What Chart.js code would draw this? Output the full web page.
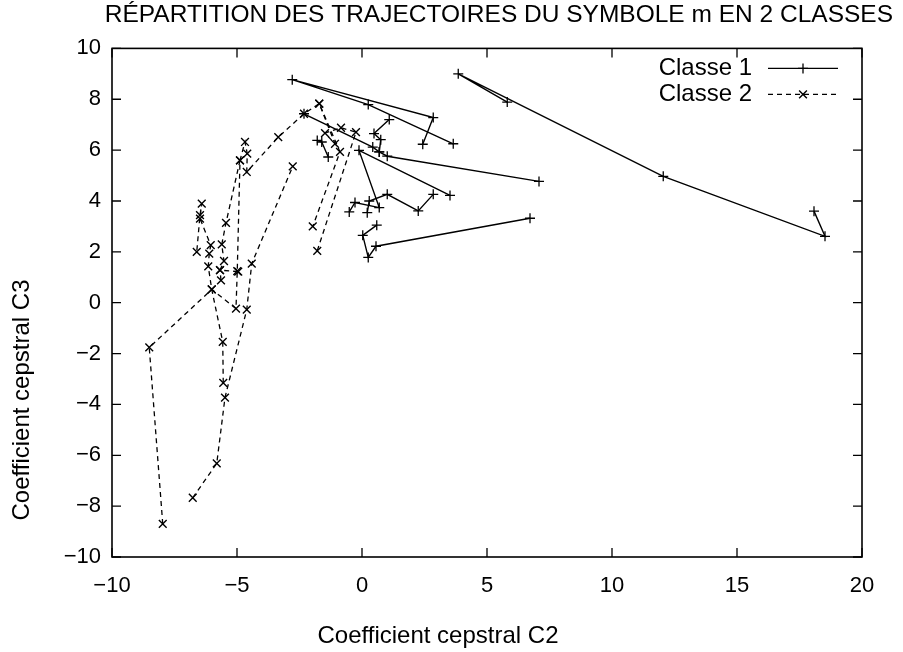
<!DOCTYPE html>
<html>
<head>
<meta charset="utf-8">
<script src="https://cdn.jsdelivr.net/npm/chart.js@4.4.1/dist/chart.umd.min.js"></script>
<style>
  html, body { margin: 0; padding: 0; background: #fff; }
</style>
</head>
<body>
<canvas id="chart" width="903" height="652"></canvas>
<script>
const chartTitle = "RÉPARTITION DES TRAJECTOIRES DU SYMBOLE m EN 2 CLASSES";
const xLabel = "Coefficient cepstral C2";
const yLabel = "Coefficient cepstral C3";
const legendLabels = ["Classe 1", "Classe 2"];
const xTicks = [-10, -5, 0, 5, 10, 15, 20];
const yTicks = [-10, -8, -6, -4, -2, 0, 2, 4, 6, 8, 10];

// classe 1 trajectories, [C2, C3] per frame
const c1Traj1 = [[5.81, 7.89], [3.85, 9.0], [12.05, 4.97], [18.52, 2.61], [18.08, 3.6]];
const c1Traj2 = [[2.43, 6.23], [2.85, 7.28], [-2.79, 8.77], [0.25, 7.79], [3.65, 6.25]];
const c1Traj3 = [[-2.32, 7.43], [0.43, 6.12], [0.69, 5.93], [1.01, 5.76], [7.08, 4.77]];
const c1Traj4 = [[1.09, 7.2], [0.48, 6.65], [0.75, 6.41], [0.69, 5.93]];
const c1Traj5 = [[3.52, 4.22], [-0.12, 5.99], [0.69, 3.74], [-0.28, 3.94], [-0.51, 3.57]];
const c1Traj6 = [[2.85, 4.26], [2.25, 3.61], [1.01, 4.26], [0.29, 4.0], [0.21, 3.54]];
const c1Traj7 = [[6.72, 3.32], [0.56, 2.22], [0.25, 1.78], [0.03, 2.65], [0.59, 3.05]];
const c1Traj8 = [[-1.79, 6.38], [-1.61, 6.32], [-1.35, 5.73]];

// classe 2 trajectories
const c2Traj1 = [[-7.97, -8.7], [-8.51, -1.76], [-6.01, 0.52], [-5.04, -0.23], [-4.99, 1.24], [-4.88, 5.6],
                 [-4.68, 6.32], [-4.59, 5.86], [-4.61, 5.14], [-3.35, 6.51], [-2.32, 7.43], [-1.71, 7.83],
                 [-0.88, 5.93], [-1.97, 3.0]];
const c2Traj2 = [[-6.77, -7.67], [-5.81, -6.32], [-5.48, -3.73], [-4.61, -0.27], [-4.41, 1.54], [-2.77, 5.36]];
const c2Traj3 = [[-5.55, -3.15], [-5.57, -1.54], [-6.01, 0.52], [-6.15, 1.43], [-6.11, 1.93], [-6.05, 2.26],
                 [-6.48, 3.31], [-6.41, 3.9], [-6.48, 3.44], [-6.61, 2.0]];
const c2Traj4 = [[-4.88, 5.6], [-5.44, 3.14], [-5.61, 2.29], [-5.52, 1.64], [-5.68, 1.28], [-4.95, 1.22]];
const c2Traj5 = [[-5.64, 0.88], [-5.68, 1.28]];
const c2Traj6 = [[-1.79, 2.04], [-0.24, 6.71], [-0.84, 6.88], [-1.48, 6.67], [-1.08, 6.25], [-1.71, 7.83]];

const classe1 = [c1Traj1, c1Traj2, c1Traj3, c1Traj4, c1Traj5, c1Traj6, c1Traj7, c1Traj8];
const classe2 = [c2Traj1, c2Traj2, c2Traj3, c2Traj4, c2Traj5, c2Traj6];

const FONT = "'Liberation Sans', Arial, Helvetica, sans-serif";
const minus = v => String(v).replace('-', '\u2212');

const c1Style = {
    borderColor: '#000', borderWidth: 1.4, pointStyle: 'cross', pointRadius: 5,
    pointBorderWidth: 1.3, pointBorderColor: '#000', pointBackgroundColor: '#000'
};
const c2Style = {
    borderColor: '#000', borderWidth: 1.3, borderDash: [5, 4], pointStyle: 'crossRot', pointRadius: 5.5,
    pointBorderWidth: 1.4, pointBorderColor: '#000', pointBackgroundColor: '#000'
};

const datasets = [];
classe1.forEach(t => datasets.push(Object.assign({ data: t.map(p => ({ x: p[0], y: p[1] })), showLine: true }, c1Style)));
classe2.forEach(t => datasets.push(Object.assign({ data: t.map(p => ({ x: p[0], y: p[1] })), showLine: true }, c2Style)));

// gnuplot-like frame with inward ticks on all four sides
const framePlugin = {
    id: 'frame',
    afterDatasetsDraw(chart) {
        const { ctx, chartArea: a, scales } = chart;
        ctx.save();
        ctx.strokeStyle = '#000';
        ctx.lineWidth = 1.6;
        ctx.strokeRect(a.left, a.top, a.right - a.left, a.bottom - a.top);
        ctx.lineWidth = 1.3;
        ctx.beginPath();
        xTicks.forEach(v => {
            const px = scales.x.getPixelForValue(v);
            ctx.moveTo(px, a.bottom); ctx.lineTo(px, a.bottom - 9);
            ctx.moveTo(px, a.top); ctx.lineTo(px, a.top + 9);
        });
        yTicks.forEach(v => {
            const py = scales.y.getPixelForValue(v);
            ctx.moveTo(a.left, py); ctx.lineTo(a.left + 9, py);
            ctx.moveTo(a.right, py); ctx.lineTo(a.right - 9, py);
        });
        ctx.stroke();
        ctx.restore();
    }
};

// axis titles and key, drawn the way gnuplot placed them
const labelsPlugin = {
    id: 'labels',
    afterDraw(chart) {
        const { ctx, chartArea: a } = chart;
        ctx.save();
        ctx.fillStyle = '#000';
        ctx.font = '24px ' + FONT;
        ctx.textAlign = 'center';
        ctx.textBaseline = 'middle';
        ctx.fillText(xLabel, 438, 636);
        ctx.save();
        ctx.translate(22, 400);
        ctx.rotate(-Math.PI / 2);
        ctx.fillText(yLabel, 0, 0);
        ctx.restore();

        const styles = [c1Style, c2Style];
        legendLabels.forEach((lab, i) => {
            const y = a.top + 20 + i * 26;
            const x1 = a.right - 94, x2 = a.right - 24;
            ctx.textAlign = 'right';
            ctx.font = '24px ' + FONT;
            ctx.fillText(lab, x1 - 16, y);
            ctx.save();
            ctx.strokeStyle = '#000';
            ctx.lineWidth = styles[i].borderWidth;
            ctx.setLineDash(styles[i].borderDash || []);
            ctx.beginPath();
            ctx.moveTo(x1, y); ctx.lineTo(x2, y);
            ctx.stroke();
            ctx.setLineDash([]);
            ctx.lineWidth = styles[i].pointBorderWidth;
            Chart.helpers.drawPoint(ctx, {
                pointStyle: styles[i].pointStyle, radius: styles[i].pointRadius, borderWidth: styles[i].pointBorderWidth
            }, (x1 + x2) / 2, y);
            ctx.restore();
        });
        ctx.restore();
    }
};

new Chart(document.getElementById('chart').getContext('2d'), {
    type: 'scatter',
    data: { datasets: datasets },
    options: {
        responsive: false,
        animation: false,
        layout: { padding: { left: 0, right: 10, top: 0, bottom: 0 } },
        plugins: {
            legend: { display: false },
            tooltip: { enabled: false },
            title: {
                display: true,
                text: chartTitle,
                align: 'end',
                color: '#000',
                font: { family: FONT, size: 24.5, weight: 'normal' },
                padding: { top: 1, bottom: 18 }
            }
        },
        scales: {
            x: {
                type: 'linear',
                min: -10, max: 20,
                afterBuildTicks: s => { s.ticks = xTicks.map(v => ({ value: v })); },
                afterFit: s => { s.height = 95; },
                grid: { display: false, drawTicks: false },
                border: { display: false },
                ticks: { color: '#000', font: { family: FONT, size: 22 }, padding: 16, maxRotation: 0, callback: minus }
            },
            y: {
                type: 'linear',
                min: -10, max: 10,
                afterBuildTicks: s => { s.ticks = yTicks.map(v => ({ value: v })); },
                afterFit: s => { s.width = 112; },
                grid: { display: false, drawTicks: false },
                border: { display: false },
                ticks: { color: '#000', font: { family: FONT, size: 22 }, padding: 11, callback: minus }
            },
            yRight: {
                type: 'linear',
                position: 'right',
                min: -10, max: 10,
                afterFit: s => { s.width = 31; },
                grid: { display: false, drawTicks: false },
                border: { display: false },
                ticks: { display: false }
            }
        }
    },
    plugins: [framePlugin, labelsPlugin]
});
</script>
</body>
</html>
